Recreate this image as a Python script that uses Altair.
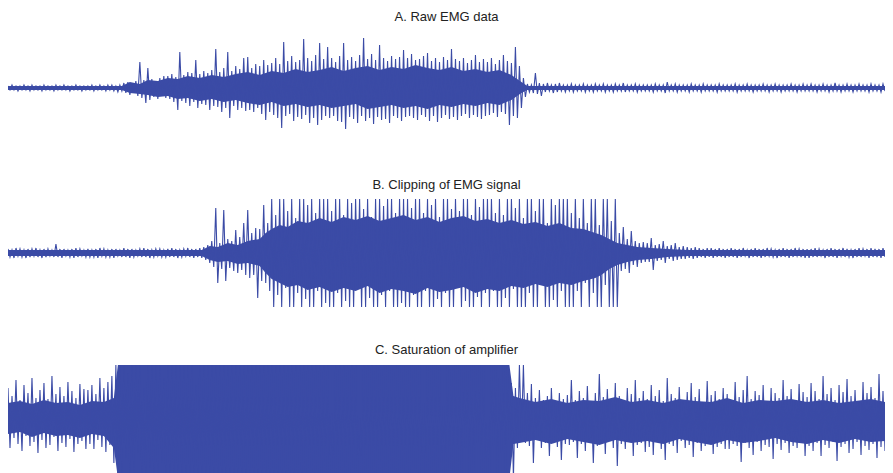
import altair as alt
import pandas as pd

# ---------------- Panel A: raw EMG (upper / lower peak per sample pair) ----------------
a_up = [
    2, 3, 2, 2, 3, 2, 3, 2, 2, 3, 2, 2, 3, 2, 3, 2, 2, 3, 2, 2,
    2, 3, 2, 3, 2, 3, 3, 2, 3, 5, 6, 4, 7, 26, 8, 20, 9, 7, 10, 12,
    12, 14, 11, 36, 13, 16, 15, 28, 14, 17, 15, 18, 39, 16, 20, 36, 17, 22, 19, 30,
    31, 20, 24, 22, 28, 23, 25, 30, 24, 46, 27, 32, 26, 28, 49, 30, 27, 33, 45, 29,
    41, 30, 26, 32, 45, 28, 31, 27, 33, 50, 29, 34, 28, 43, 30, 27, 32, 29, 31, 38,
    30, 34, 28, 29, 32, 35, 27, 30, 26, 31, 28, 39, 29, 27, 30, 25, 28, 33, 26, 29,
    26, 30, 24, 28, 33, 27, 25, 41, 22, 10, 4, 3, 15, 5, 4, 5, 3, 4, 5, 3,
    3, 4, 3, 3, 4, 3, 3, 4, 3, 4, 3, 3, 4, 3, 5, 3, 3, 4, 3, 3,
    3, 3, 4, 3, 3, 6, 3, 4, 3, 3, 3, 4, 3, 3, 4, 3, 3, 3, 4, 3,
    3, 3, 4, 3, 3, 4, 3, 3, 3, 4, 3, 3, 4, 3, 3, 3, 4, 3, 3, 4,
    3, 4, 3, 3, 4, 3, 3, 5, 3, 3, 4, 3, 3, 4, 3, 3, 4, 3, 3, 4,
]
a_dn = [
    -2, -2, -3, -2, -2, -3, -2, -2, -3, -2, -2, -3, -2, -2, -2, -3, -2, -2, -3, -2,
    -2, -3, -2, -2, -3, -2, -3, -4, -3, -5, -7, -5, -8, -10, -15, -12, -9, -11, -8, -10,
    -11, -14, -22, -13, -15, -18, -14, -20, -16, -17, -22, -18, -19, -24, -20, -30, -18, -22, -20, -23,
    -22, -24, -20, -26, -32, -24, -27, -30, -40, -28, -26, -33, -29, -31, -27, -35, -30, -37, -32, -28,
    -30, -28, -33, -34, -41, -29, -31, -35, -28, -33, -30, -36, -29, -32, -31, -35, -28, -30, -33, -29,
    -28, -30, -32, -27, -29, -33, -28, -34, -30, -27, -31, -29, -32, -28, -26, -30, -27, -29, -31, -28,
    -27, -25, -29, -24, -26, -37, -28, -30, -20, -9, -4, -5, -6, -8, -4, -3, -5, -4, -3, -4,
    -3, -4, -3, -3, -4, -3, -4, -3, -3, -4, -3, -4, -3, -3, -4, -3, -3, -4, -3, -3,
    -3, -4, -3, -3, -5, -3, -3, -4, -3, -3, -4, -3, -3, -4, -3, -3, -3, -4, -3, -3,
    -3, -3, -4, -3, -3, -3, -4, -3, -3, -3, -4, -3, -3, -4, -3, -3, -3, -4, -3, -3,
    -3, -3, -4, -3, -3, -4, -3, -3, -4, -3, -3, -4, -3, -3, -3, -4, -3, -3, -4, -3,
]
# dense core envelope of panel A (sample index, upper, lower)
a_core_t = [0, 57, 61, 66, 70, 75, 80, 85, 90, 96, 102, 108, 114, 120, 126, 132, 138, 144, 150,
            156, 162, 168, 174, 180, 186, 192, 198, 204, 210, 216, 222, 228, 234, 240, 246,
            252, 257, 260, 439]
a_core_hi = [2, 2, 6, 4, 8, 7, 10, 9, 12, 10, 13, 11, 14, 16, 13, 17, 15, 19, 16,
             18, 21, 17, 20, 22, 18, 21, 19, 23, 20, 18, 21, 17, 19, 16, 18,
             13, 6, 2, 2]
a_core_lo = [-2, -2, -5, -6, -7, -9, -8, -11, -10, -13, -11, -14, -12, -15, -17, -14, -18, -16, -19,
             -17, -20, -18, -16, -21, -19, -17, -20, -18, -21, -17, -19, -16, -18, -15, -17,
             -12, -5, -2, -2]

# ---------------- Panel B: clipping of EMG signal ----------------
b_up = [
    4, 3, 5, 4, 3, 4, 4, 5, 3, 4, 4, 3, 9, 4, 4, 3, 4, 5, 4, 3,
    4, 3, 4, 5, 4, 3, 4, 4, 3, 5, 4, 4, 3, 4, 5, 4, 3, 4, 4, 3,
    4, 5, 4, 3, 4, 5, 4, 4, 5, 6, 8, 12, 45, 10, 43, 14, 12, 23, 16, 30,
    43, 20, 25, 24, 48, 30, 54, 38, 54, 54, 42, 54, 35, 54, 54, 48, 54, 40, 54, 54,
    54, 42, 54, 54, 38, 54, 50, 54, 54, 44, 54, 36, 54, 54, 47, 54, 54, 40, 54, 54,
    54, 45, 54, 54, 40, 54, 48, 54, 36, 54, 54, 44, 54, 42, 54, 54, 38, 54, 46, 54,
    54, 54, 40, 54, 38, 54, 54, 45, 54, 35, 54, 54, 42, 54, 54, 30, 54, 48, 54, 54,
    54, 40, 54, 35, 54, 30, 54, 54, 28, 54, 54, 32, 54, 20, 26, 14, 22, 12, 10, 11,
    10, 15, 8, 9, 12, 7, 8, 10, 6, 7, 6, 5, 6, 5, 4, 5, 5, 4, 5, 4,
    4, 5, 4, 4, 5, 3, 4, 5, 4, 4, 5, 4, 3, 4, 5, 4, 4, 5, 4, 4,
    4, 4, 5, 4, 3, 4, 5, 4, 4, 5, 4, 3, 4, 5, 4, 4, 5, 4, 4, 5,
]
b_dn = [
    -4, -5, -3, -4, -5, -4, -3, -4, -5, -4, -3, -4, -4, -5, -3, -4, -5, -4, -3, -4,
    -4, -4, -5, -3, -4, -4, -5, -3, -4, -4, -5, -4, -3, -4, -4, -5, -4, -3, -4, -4,
    -4, -4, -5, -4, -3, -4, -5, -4, -5, -7, -10, -14, -30, -16, -28, -15, -18, -20, -17, -22,
    -25, -22, -45, -28, -30, -38, -54, -42, -54, -35, -54, -54, -40, -54, -46, -54, -54, -38, -54, -50,
    -54, -54, -40, -54, -48, -54, -54, -36, -54, -54, -45, -54, -54, -42, -54, -38, -54, -54, -50, -54,
    -54, -42, -54, -54, -38, -54, -54, -46, -54, -40, -54, -54, -35, -54, -48, -54, -54, -44, -54, -40,
    -54, -38, -54, -54, -45, -54, -36, -54, -54, -54, -40, -54, -54, -32, -54, -54, -47, -54, -38, -54,
    -54, -54, -38, -54, -30, -54, -40, -54, -54, -32, -54, -54, -54, -18, -16, -20, -12, -14, -10, -9,
    -9, -17, -8, -7, -10, -6, -8, -7, -6, -6, -5, -6, -5, -4, -5, -4, -5, -4, -4, -5,
    -4, -4, -5, -4, -3, -5, -4, -4, -5, -4, -3, -4, -5, -4, -4, -5, -4, -3, -4, -5,
    -5, -4, -4, -3, -5, -4, -4, -5, -3, -4, -4, -5, -4, -4, -3, -5, -4, -4, -5, -4,
]
b_core_t = [0, 97, 101, 105, 110, 115, 120, 126, 129, 132, 136, 140, 145, 150, 156, 162, 168, 174,
            180, 186, 192, 198, 204, 210, 216, 222, 228, 234, 240, 246, 252, 258, 264, 270, 276,
            282, 288, 294, 297, 301, 305, 310, 315, 322, 330, 340, 439]
b_core_hi = [3, 3, 7, 6, 10, 8, 12, 14, 20, 24, 28, 26, 32, 30, 35, 31, 36, 33,
             37, 32, 35, 38, 33, 36, 31, 35, 37, 32, 34, 30, 33, 29, 31, 27, 30,
             25, 24, 20, 18, 14, 10, 8, 6, 5, 4, 3, 3]
b_core_lo = [-3, -3, -7, -9, -8, -11, -10, -13, -20, -26, -30, -34, -32, -37, -34, -39, -35, -38,
             -33, -40, -36, -38, -41, -35, -39, -37, -34, -40, -36, -38, -33, -35, -31, -34, -30,
             -32, -28, -25, -22, -16, -12, -9, -7, -6, -4, -3, -3]

# ---------------- Panel C: saturation of amplifier ----------------
c_up = [
    30, 22, 38, 18, 33, 25, 40, 20, 28, 35, 19, 42, 24, 31, 22, 36, 27, 20, 34, 29,
    28, 33, 24, 40, 30, 36, 42, 53, 53, 53, 45, 53, 53, 53, 30, 53, 53, 53, 53, 40,
    53, 53, 53, 53, 53, 53, 53, 33, 53, 53, 53, 53, 53, 53, 53, 53, 53, 53, 53, 53,
    53, 53, 53, 53, 53, 53, 53, 53, 53, 53, 53, 53, 53, 53, 53, 53, 53, 53, 53, 53,
    53, 5, 53, 53, 53, 53, 53, 53, 0, 53, 53, 53, 53, 53, 53, 53, 53, 53, 53, 53,
    53, 53, 53, 53, 15, 53, 53, 53, 53, 12, 53, 53, 53, 53, 53, 53, 53, 53, 53, 53,
    -5, 53, 53, 40, 53, 53, 35, 30, 53, 53, 25, 34, 20, 28, 18, 22, 30, 17, 25, 19,
    23, 38, 18, 27, 20, 32, 16, 25, 44, 21, 29, 19, 35, 22, 17, 30, 24, 38, 20, 27,
    19, 33, 22, 28, 17, 40, 24, 20, 31, 18, 26, 35, 21, 29, 16, 37, 23, 27, 19, 30,
    24, 18, 36, 21, 28, 42, 19, 27, 23, 33, 17, 30, 25, 20, 38, 22, 29, 18, 34, 26,
    21, 35, 27, 19, 42, 24, 30, 18, 33, 26, 39, 22, 28, 17, 36, 25, 31, 20, 44, 27,
]
c_dn = [
    -30, -20, -26, -33, -18, -28, -24, -35, -22, -30, -27, -19, -33, -25, -29, -21, -34, -26, -23, -31,
    -26, -31, -22, -29, -34, -27, -45, -60, -60, -40, -60, -60, -35, -60, -60, -50, -60, -60, -45, -60,
    -60, -60, -60, -60, -60, -60, -60, -60, -60, -60, -60, -60, -60, -60, -60, -60, -60, -60, -60, -60,
    -60, -60, -60, -60, -60, -60, -60, -60, -60, -60, -60, -60, -60, -60, -60, -60, -60, -60, -60, -60,
    -60, -60, -60, -60, -60, -60, -60, -60, -60, -60, -60, -60, -60, -60, -60, -60, -60, -60, -60, -60,
    -60, -60, -60, -60, -60, -60, -60, -60, -60, -60, -60, -60, -60, -60, -30, -60, -60, -25, -60, -60,
    -60, -28, -60, -35, -60, -22, -60, -30, -20, -25, -28, -45, -22, -30, -25, -38, -24, -29, -42, -26,
    -27, -24, -40, -26, -33, -22, -45, -28, -25, -36, -23, -30, -48, -26, -31, -24, -38, -27, -25, -34,
    -29, -37, -24, -31, -42, -26, -28, -35, -23, -30, -27, -39, -25, -33, -28, -24, -36, -29, -26, -31,
    -31, -26, -28, -44, -25, -30, -37, -24, -33, -27, -29, -41, -26, -32, -25, -35, -28, -30, -24, -38,
    -28, -33, -25, -38, -27, -30, -24, -43, -29, -26, -35, -31, -24, -37, -28, -32, -26, -40, -29, -33,
]
c_core_t = [0, 6, 12, 18, 24, 30, 36, 42, 48, 53, 55, 251, 253,
            256, 264, 272, 280, 288, 296, 304, 312, 320, 328, 336, 344, 352, 360, 368, 376,
            384, 392, 400, 408, 416, 424, 432, 439]
c_core_hi = [15, 17, 14, 18, 15, 16, 13, 17, 16, 20, 53, 53, 22,
             20, 16, 19, 15, 18, 17, 21, 16, 18, 15, 19, 17, 16, 20, 15, 18,
             17, 19, 16, 18, 15, 17, 19, 16]
c_core_lo = [-16, -14, -19, -15, -18, -17, -20, -16, -18, -30, -60, -60, -26,
             -25, -22, -26, -21, -24, -27, -22, -25, -23, -26, -21, -24, -27, -22, -25, -23,
             -20, -24, -26, -22, -25, -21, -24, -23]

titles = ["A. Raw EMG data", "B. Clipping of EMG signal", "C. Saturation of amplifier"]
COLOR = "#3B4BA6"


def to_frame(up, dn):
    rows = []
    for i, (u, d) in enumerate(zip(up, dn)):
        rows.append({"t": 2 * i, "v": u})
        rows.append({"t": 2 * i + 1, "v": d})
    return pd.DataFrame(rows)


def panel(up, dn, core_t, core_hi, core_lo, title, title_offset):
    df = to_frame(up, dn)
    n = len(df)
    core = pd.DataFrame({"t": core_t, "hi": core_hi, "lo": core_lo})
    xs = alt.Scale(domain=[0, n - 1], nice=False, zero=False)
    ys = alt.Scale(domain=[-55, 55], nice=False)
    area = (
        alt.Chart(core)
        .mark_area(color=COLOR, opacity=1, clip=True)
        .encode(
            x=alt.X("t:Q", axis=None, scale=xs),
            y=alt.Y("hi:Q", axis=None, scale=ys),
            y2="lo:Q",
        )
    )
    line = (
        alt.Chart(df)
        .mark_line(color=COLOR, strokeWidth=1.1, clip=True, interpolate="linear")
        .encode(
            x=alt.X("t:Q", axis=None, scale=xs),
            y=alt.Y("v:Q", axis=None, scale=ys),
        )
    )
    return alt.layer(area, line).properties(
        width=877,
        height=110,
        title=alt.TitleParams(
            title, fontSize=13, font="Liberation Sans", fontWeight="normal",
            color="#222222", anchor="middle", offset=title_offset,
        ),
    )


chart = (
    alt.vconcat(
        panel(a_up, a_dn, a_core_t, a_core_hi, a_core_lo, titles[0], 9),
        panel(b_up, b_dn, b_core_t, b_core_hi, b_core_lo, titles[1], 6),
        panel(c_up, c_dn, c_core_t, c_core_hi, c_core_lo, titles[2], 6),
        spacing=36,
    )
    .properties(padding={"top": 3, "left": 0, "right": 0, "bottom": 0}, background="white")
    .configure_view(stroke=None)
)

chart.save("out.html", embed_options={"renderer": "svg", "actions": False})
